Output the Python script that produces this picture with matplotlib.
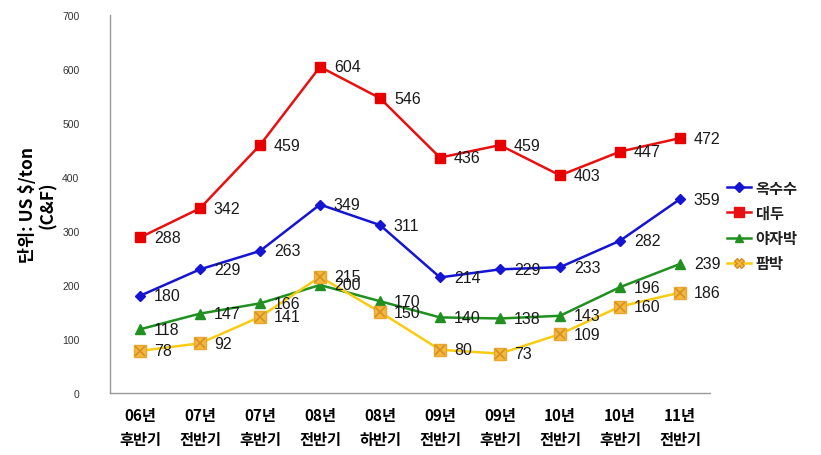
import matplotlib
matplotlib.use("Agg")
import matplotlib.pyplot as plt
from matplotlib.lines import Line2D

plt.rcParams['font.family'] = ['Liberation Sans', 'Noto Sans CJK KR', 'DejaVu Sans']

periods = ["06년\n후반기", "07년\n전반기", "07년\n후반기", "08년\n전반기", "08년\n하반기",
           "09년\n전반기", "09년\n후반기", "10년\n전반기", "10년\n후반기", "11년\n전반기"]
corn = [180, 229, 263, 349, 311, 214, 229, 233, 282, 359]
soybean = [288, 342, 459, 604, 546, 436, 459, 403, 447, 472]
copra = [118, 147, 166, 200, 170, 140, 138, 143, 196, 239]
palm = [78, 92, 141, 215, 150, 80, 73, 109, 160, 186]
names = ["옥수수", "대두", "야자박", "팜박"]
yticks = [0, 100, 200, 300, 400, 500, 600, 700]

fig = plt.figure(figsize=(8.21, 4.56), dpi=100)
ax = fig.add_axes([110 / 821, 62 / 456, 600 / 821, 378 / 456])

x = list(range(len(periods)))
kor = ['Noto Sans CJK KR', 'DejaVu Sans']

ax.plot(x, corn, color='#1414D2', lw=1.8, marker='D', ms=5, mfc='#1414D2', mec='#1414D2', zorder=3)
ax.plot(x, soybean, color='#E81010', lw=1.8, marker='s', ms=7.5, mfc='#E80000', mec='#E80000', zorder=3)
ax.plot(x, copra, color='#209020', lw=1.8, marker='^', ms=7, mfc='#209020', mec='#209020', zorder=3)
ax.plot(x, palm, color='#F8CC10', lw=1.8, marker='s', ms=8, mfc='#F2B840', mec='#E8A830', zorder=3)
ax.plot(x, palm, ls='none', marker='x', ms=7, mew=1.2, color='#D89020', zorder=4)

for series in (corn, soybean, copra, palm):
    for xi, v in zip(x, series):
        ax.annotate(str(v), (xi, v), xytext=(10, 0), textcoords='offset points',
                    ha='left', va='center', fontsize=11.5, color='#1a1a1a', zorder=5)

ax.set_xlim(-0.5, len(periods) - 0.5)
ax.set_ylim(0, 700)
ax.set_yticks(yticks)
ax.set_yticklabels([str(t) for t in yticks], fontsize=7.5, color='#333333')
ax.set_xticks(x)
ax.set_xticklabels(periods, fontsize=11, fontweight='bold', family=kor, linespacing=1.65)
ax.tick_params(axis='both', length=0)
ax.tick_params(axis='y', pad=22)
ax.tick_params(axis='x', pad=10)

for s in ('top', 'right'):
    ax.spines[s].set_visible(False)
for s in ('left', 'bottom'):
    ax.spines[s].set_color('#999999')
    ax.spines[s].set_linewidth(1.0)

ax.set_ylabel("단위: US $/ton\n(C&F)", fontsize=12.5, fontweight='bold', family=kor, labelpad=4, linespacing=1.1)

handles = [
    Line2D([], [], color='#1414D2', lw=1.8, marker='D', ms=5),
    Line2D([], [], color='#E81010', lw=1.8, marker='s', ms=7),
    Line2D([], [], color='#209020', lw=1.8, marker='^', ms=6),
    Line2D([], [], color='#F8CC10', lw=1.8, marker='X', ms=7, mfc='#F2B840', mec='#D89020'),
]
leg = fig.legend(handles, names, loc='upper left', bbox_to_anchor=(722 / 821, 1 - 176 / 456),
                 frameon=False, handlelength=1.6, handletextpad=0.3, labelspacing=0.6,
                 borderaxespad=0, borderpad=0.3,
                 prop={'family': kor, 'size': 11, 'weight': 'bold'})
for t in leg.get_texts():
    t.set_color('#222222')

fig.savefig("out.png", dpi=100)
